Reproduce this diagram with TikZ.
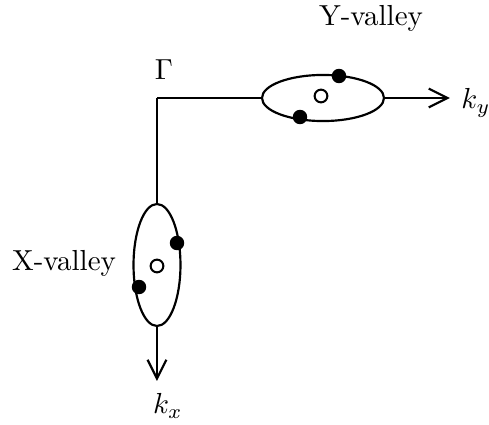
\documentclass[tikz,border=0pt]{standalone}
\usepackage{tikz}
\usetikzlibrary{arrows.meta,shapes.geometric}
\tikzset{
  valley/.style={
    ellipse,
    draw,
    line width=0.75pt,
    inner sep=0pt
  },
  dot/.style={
    circle,
    fill=black,
    inner sep=0pt,
    minimum size=5pt
  },
  hole/.style={
    circle,
    draw,
    fill=white,
    line width=0.7pt,
    inner sep=0pt,
    minimum size=4.4pt
  },
  axis/.style={
    line width=0.75pt
  },
  arrow/.style={
    -{Straight Barb[length=6.5pt,width=6.5pt]},
    line width=0.75pt
  }
}

\begin{document}
\begin{tikzpicture}[x=0.345pt,y=0.345pt]
\useasboundingbox (0,0) rectangle (489,425);
\coordinate (gamma) at (157,327);
\coordinate (kyend) at (450,327);
\coordinate (kxend) at (157,44);
\node[valley, minimum width=42.1pt, minimum height=15.9pt] (yv) at (323,327) {};
\node[valley, minimum width=16.2pt, minimum height=42.1pt] (xv) at (157,160) {};
\draw[axis] (gamma) -- (yv.west);
\draw[arrow] (yv.east) -- (kyend);
\draw[axis] (gamma) -- (xv.north);
\draw[arrow] (xv.south) -- (kxend);
% electrons and hole in each valley
\node[dot] (ye1) at (339,349) {};
\node[dot] (ye2) at (300,308) {};
\node[hole] (yh) at (321,329) {};
\node[dot] (xe1) at (177,182) {};
\node[dot] (xe2) at (139,138) {};
\node[hole] (xh) at (157,159) {};
% labels
\node (glab) at (164,355) {$\Gamma$};
\node (ylab) at (371,407) {Y-valley};
\node (xlab) at (64,162) {X-valley};
\node (kylab) at (476,322) {$k_y$};
\node (kxlab) at (168,19) {$k_x$};
\end{tikzpicture}
\end{document}
